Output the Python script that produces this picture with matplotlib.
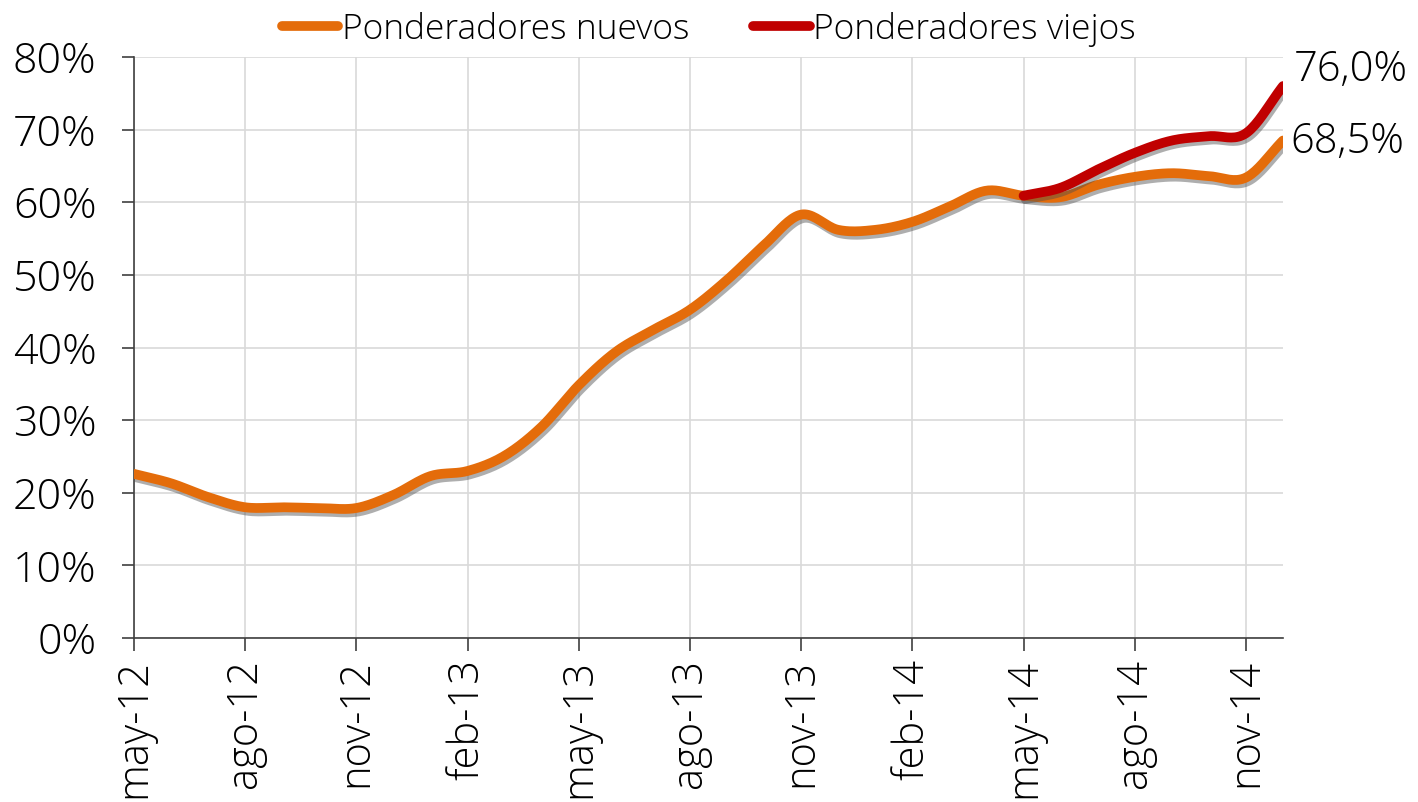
import numpy as np
import matplotlib
matplotlib.use("Agg")
import matplotlib.pyplot as plt
import matplotlib.patheffects as pe
from matplotlib.ticker import FuncFormatter

# monthly series, may-12 .. dic-14
meses = ["may-12", "jun-12", "jul-12", "ago-12", "sep-12", "oct-12", "nov-12", "dic-12",
         "ene-13", "feb-13", "mar-13", "abr-13", "may-13", "jun-13", "jul-13", "ago-13",
         "sep-13", "oct-13", "nov-13", "dic-13", "ene-14", "feb-14", "mar-14", "abr-14",
         "may-14", "jun-14", "jul-14", "ago-14", "sep-14", "oct-14", "nov-14", "dic-14"]
nuevos = [22.6, 21.3, 19.4, 18.0, 18.0, 17.9, 17.9, 19.7,
          22.3, 23.0, 25.1, 29.1, 34.8, 39.4, 42.4, 45.2,
          49.3, 54.1, 58.3, 56.2, 56.2, 57.3, 59.4, 61.6,
          60.9, 60.7, 62.4, 63.5, 64.0, 63.6, 63.4, 68.5]
viejos_inicio = 24  # may-14
viejos = [60.9, 62.0, 64.5, 66.8, 68.5, 69.1, 69.5, 76.0]

tick_labels = meses[::3]

C_NUEVOS = "#E46C0A"
C_VIEJOS = "#C00000"


def smooth(x, y, n=20):
    # catmull-rom pass through the points, like excel's smoothed line
    x = np.asarray(x, float)
    y = np.asarray(y, float)
    px = np.concatenate([[2 * x[0] - x[1]], x, [2 * x[-1] - x[-2]]])
    py = np.concatenate([[2 * y[0] - y[1]], y, [2 * y[-1] - y[-2]]])
    xs, ys = [], []
    t = np.linspace(0, 1, n, endpoint=False)
    for i in range(1, len(px) - 2):
        for p, out in ((px, xs), (py, ys)):
            p0, p1, p2, p3 = p[i - 1], p[i], p[i + 1], p[i + 2]
            out.append(0.5 * ((2 * p1) + (-p0 + p2) * t
                              + (2 * p0 - 5 * p1 + 4 * p2 - p3) * t ** 2
                              + (-p0 + 3 * p1 - 3 * p2 + p3) * t ** 3))
    xs = np.concatenate(xs + [[x[-1]]])
    ys = np.concatenate(ys + [[y[-1]]])
    return xs, ys


plt.rcParams['font.family'] = ['Open Sans', 'DejaVu Sans']
plt.rcParams['font.weight'] = 'light'

fig = plt.figure(figsize=(14.18, 8.02), dpi=100)
ax = fig.add_axes([134 / 1418, 1 - 638 / 802, (1283 - 134) / 1418, (638 - 57) / 802])

shadow = [pe.SimpleLineShadow(offset=(1.5, -2.5), shadow_color="0.3", alpha=0.45), pe.Normal()]

x_n = np.arange(len(nuevos))
sx, sy = smooth(x_n, nuevos)
ax.plot(sx, sy, color=C_NUEVOS, lw=7, solid_capstyle="round", path_effects=shadow,
        label="Ponderadores nuevos", zorder=3)

x_v = np.arange(viejos_inicio, viejos_inicio + len(viejos))
sx, sy = smooth(x_v, viejos)
ax.plot(sx, sy, color=C_VIEJOS, lw=7, solid_capstyle="round", path_effects=shadow,
        label="Ponderadores viejos", zorder=4)

ax.text(len(nuevos) - 1 + 0.3, viejos[-1] + 2.3, "76,0%", fontsize=30,
        va="center", ha="left", clip_on=False)
ax.text(len(nuevos) - 1 + 0.2, nuevos[-1] - 0.2, "68,5%", fontsize=30,
        va="center", ha="left", clip_on=False)

ax.set_xlim(0, len(nuevos) - 1)
ax.set_ylim(0, 80)
ax.set_yticks(np.arange(0, 81, 10))
ax.yaxis.set_major_formatter(FuncFormatter(lambda v, p: f"{v:.0f}%"))
ax.set_xticks(np.arange(0, len(meses), 3))
ax.set_xticklabels(tick_labels, rotation=90)

ax.tick_params(axis="both", length=9, width=1.2, color="#404040")
ax.tick_params(axis="x", labelsize=30, pad=6)
ax.tick_params(axis="y", labelsize=31, pad=18)
ax.grid(True, color="#D9D9D9", lw=1.2)
ax.set_axisbelow(True)
for s in ("top", "right"):
    ax.spines[s].set_visible(False)
for s in ("left", "bottom"):
    ax.spines[s].set_color("#404040")
    ax.spines[s].set_linewidth(1.2)

leg = fig.legend(loc="upper center", bbox_to_anchor=(0.5, 1.025), ncol=2, frameon=False,
                 fontsize=25.5, handlelength=1.6, handletextpad=0.1, columnspacing=1.8)
for h in leg.get_lines():
    h.set_linewidth(7)
    h.set_path_effects([])

fig.savefig("out.png", dpi=100)
